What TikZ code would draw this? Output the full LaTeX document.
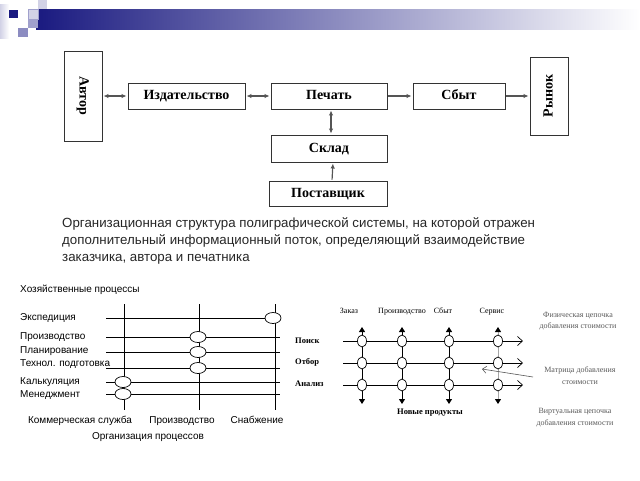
\documentclass[tikz,border=0pt]{standalone}
\usepackage{fontspec}
\setmainfont{Liberation Serif}
\newfontfamily\capfont{Liberation Sans}
\usepackage{tikz}
\usetikzlibrary{positioning, arrows.meta, shapes.geometric}
\definecolor{BarNavy}{HTML}{1A1A80}
\definecolor{BarMid}{HTML}{6A6AB4}
\definecolor{SqLight}{HTML}{D2D2E6}
\definecolor{SqMid}{HTML}{A0A0CC}
\definecolor{LineGray}{HTML}{555555}
\definecolor{CapGray}{HTML}{262626}

\begin{document}
\begin{tikzpicture}[x=1pt, y=-1pt,
    blockbox/.style={draw=black!80, line width=0.9pt, minimum height=26pt, inner sep=0pt, text height=9.5pt, text depth=2.5pt, font=\fontsize{14}{16}\selectfont\bfseries},
    flow/.style={draw=LineGray, line width=1.2pt, shorten <=1pt, shorten >=1pt, -{Latex[length=5pt,width=4.5pt]}},
    twoway/.style={flow, {Latex[length=5pt,width=4.5pt]}-{Latex[length=5pt,width=4.5pt]}},
    proclabel/.style={font=\capfont\fontsize{10}{12}\selectfont, inner sep=0pt, text height=7.5pt, text depth=2pt},
    procnode/.style={ellipse, draw=black, fill=white, line width=0.7pt, minimum width=16pt, minimum height=11pt, inner sep=0pt},
    chainlabel/.style={font=\fontsize{8}{12}\selectfont, inner sep=0pt, text height=5.5pt, text depth=1.5pt},
    chainnode/.style={ellipse, draw=black, fill=white, line width=0.7pt, minimum width=9pt, minimum height=12pt, inner sep=0pt},
    notelabel/.style={font=\fontsize{8}{11.5}\selectfont, inner sep=0pt, text=black!65, align=center}
  ]
  \useasboundingbox (0,0) rectangle (640,480);

  % title bar
  \shade[left color=BarNavy, middle color=BarMid, right color=white] (36,9) rectangle (640,29);
  \shade[left color=SqLight, right color=white] (0,4) rectangle (9,38);
  \fill[SqLight] (38,0) rectangle (47,9);
  \draw[SqMid, fill=SqLight] (28,9) rectangle (38,19);
  \fill[SqMid] (28,19) rectangle (38,28);
  \fill[SqMid!85!BarNavy] (18,28) rectangle (28,37);
  \fill[BarNavy] (9,10) rectangle (18,18);

  % upper chart
  \node[blockbox, rotate=-90, minimum width=90pt, minimum height=38pt] at (83,96) (avtor) {Автор};
  \node[blockbox, minimum width=117pt] at (186.5,96) (izd) {Издательство};
  \node[blockbox, minimum width=116pt] at (329,96) (pech) {Печать};
  \node[blockbox, minimum width=92pt] at (459,96) (sbyt) {Сбыт};
  \node[blockbox, rotate=90, minimum width=78pt, minimum height=38pt] at (549,96) (rynok) {Рынок};
  \node[blockbox, minimum width=116pt, minimum height=27pt] at (329,148.5) (sklad) {Склад};
  \node[blockbox, minimum width=118pt, minimum height=25pt] at (328,193.5) (post) {Поставщик};

  \draw[twoway] (avtor) -- (izd);
  \draw[twoway] (izd) -- (pech);
  \draw[flow] (pech) -- (sbyt);
  \draw[flow] (sbyt) -- (rynok);
  \draw[twoway] ([xshift=2pt]pech.south) -- ([xshift=2pt]sklad.north);
  \draw[flow] ([xshift=4pt]post.north) -- ([xshift=4pt]sklad.south);

  % caption
  \node[anchor=north west, align=left, inner sep=0pt, text=CapGray,
        font=\capfont\fontsize{13.3}{17}\selectfont] at (62,217) (caption)
    {Организационная структура полиграфической системы, на которой отражен\\
     дополнительный информационный поток, определяющий взаимодействие\\
     заказчика, автора и печатника};

  % processes grid
  \foreach \x in {124,199,275}
    \draw[line width=0.7pt] (\x,304) -- (\x,410);
  \foreach \y in {318,337,352,368,382,394}
    \draw[line width=0.7pt] (106,\y) -- (280,\y);

  \node[procnode] at (273,318) (expnode) {};
  \node[procnode] at (198,337) (prodnode) {};
  \node[procnode] at (198,352) (plannode) {};
  \node[procnode] at (198,368) (technode) {};
  \node[procnode] at (123,382) (calcnode) {};
  \node[procnode] at (123,394) (mgmtnode) {};

  \node[proclabel, anchor=west] at (20,290) (hoztitle) {Хозяйственные процессы};
  \node[proclabel, anchor=west] at (20,318) (explabel) {Экспедиция};
  \node[proclabel, anchor=west] at (20,337) (prodlabel) {Производство};
  \node[proclabel, anchor=west] at (20,351) (planlabel) {Планирование};
  \node[proclabel, anchor=west] at (20,364) (techlabel) {Технол. подготовка};
  \node[proclabel, anchor=west] at (20,382) (calclabel) {Калькуляция};
  \node[proclabel, anchor=west] at (20,395) (mgmtlabel) {Менеджмент};

  \node[proclabel] at (80,421) (commlabel) {Коммерческая служба};
  \node[proclabel] at (182,421) (prodcol) {Производство};
  \node[proclabel] at (257,421) (supplabel) {Снабжение};
  \node[proclabel] at (148,437) (orglabel) {Организация процессов};

  % value chain matrix
  \foreach \r/\y in {poisk/341, otbor/363, anal/385} {
    \coordinate (\r start) at (343,\y);
    \coordinate (\r end) at (523,\y);
    \draw[line width=1pt, -{Straight Barb[length=5pt,width=9pt,line width=0.7pt]}] (\r start) -- (\r end);
  }
  \foreach \c/\x/\col in {zak/362/black, proi/402/black, sbt/449/black, serv/498/gray!70} {
    \coordinate (\c top) at (\x,327);
    \coordinate (\c bot) at (\x,404);
    \draw[draw=\col, line width=1pt, {Triangle[length=5pt,width=6pt,color=black]}-{Triangle[length=5pt,width=6pt,color=black]}] (\c top) -- (\c bot);
    \foreach \r/\y in {poisk/341, otbor/363, anal/385}
      \node[chainnode] at (\x,\y) (\c\r) {};
  }

  \node[chainlabel] at (349,311) (zaklabel) {Заказ};
  \node[chainlabel] at (402,311) (proilabel) {Производство};
  \node[chainlabel] at (443,311) (sbtlabel) {Сбыт};
  \node[chainlabel] at (492,311) (servlabel) {Сервис};

  \node[chainlabel, anchor=west, font=\fontsize{8.5}{10}\selectfont\bfseries] at (295,341) (poisklabel) {Поиск};
  \node[chainlabel, anchor=west, font=\fontsize{8.5}{10}\selectfont\bfseries] at (295,362) (otborlabel) {Отбор};
  \node[chainlabel, anchor=west, font=\fontsize{8.5}{10}\selectfont\bfseries] at (295,384) (anallabel) {Анализ};
  \node[chainlabel, font=\fontsize{8.5}{10}\selectfont\bfseries] at (430,412) (newprod) {Новые продукты};

  \node[notelabel] at (578,321) (physnote) {Физическая цепочка\\добавления стоимости};
  \node[notelabel] at (580,375.5) (matrixnote) {Матрица добавления\\стоимости};
  \node[notelabel] at (575,417.5) (virtnote) {Виртуальная цепочка\\добавления стоимости};

  \coordinate (mtail) at (533,377);
  \coordinate (mhead) at (482,369);
  \draw[LineGray, line width=0.6pt, -{Straight Barb[length=4pt,width=7pt]}] (mtail) -- (mhead);

\end{tikzpicture}
\end{document}
